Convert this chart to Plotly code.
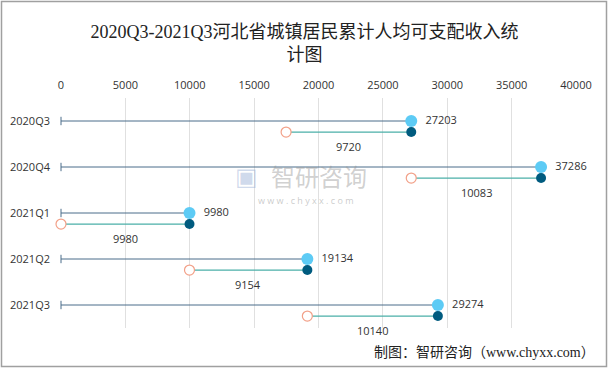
import plotly.graph_objects as go

quarters = ["2020Q3", "2020Q4", "2021Q1", "2021Q2", "2021Q3"]
cumulative = [27203, 37286, 9980, 19134, 29274]
increment = [9720, 10083, 9980, 9154, 10140]
x_ticks = [0, 5000, 10000, 15000, 20000, 25000, 30000, 35000, 40000]

W, H = 609, 369
L, R, T, B = 61, 33, 98, 41
pw, ph = W - L - R, H - T - B

starts = [c - i for c, i in zip(cumulative, increment)]
idx = list(range(len(quarters)))
n = len(quarters)
off = 0.24
FONT = "Open Sans, Noto Sans CJK SC, sans-serif"

fig = go.Figure()

for i, c in zip(idx, cumulative):
    fig.add_trace(go.Scatter(x=[0, c], y=[i, i], mode="lines", cliponaxis=False,
                             line=dict(color="#4A6C8A", width=1), hoverinfo="skip"))
    fig.add_trace(go.Scatter(x=[0], y=[i], mode="markers", cliponaxis=False,
                             marker=dict(symbol="line-ns", size=6, line=dict(color="#4A6C8A", width=1)),
                             hoverinfo="skip"))
for i, s, c in zip(idx, starts, cumulative):
    fig.add_trace(go.Scatter(x=[s, c], y=[i + off, i + off], mode="lines", cliponaxis=False,
                             line=dict(color="#4BAFA8", width=1.3), hoverinfo="skip"))

fig.add_trace(go.Scatter(x=cumulative, y=idx, mode="markers+text", cliponaxis=False,
                         marker=dict(size=12, color="#5DCBF5"),
                         text=[f"  {v}" for v in cumulative], textposition="middle right",
                         textfont=dict(size=11, color="#333333", family=FONT)))
fig.add_trace(go.Scatter(x=cumulative, y=[i + off for i in idx], mode="markers", cliponaxis=False,
                         marker=dict(size=10, color="#005B7F")))
fig.add_trace(go.Scatter(x=starts, y=[i + off for i in idx], mode="markers", cliponaxis=False,
                         marker=dict(size=10, color="white", line=dict(color="#F2A088", width=1.2))))

for i, s, c, v in zip(idx, starts, cumulative, increment):
    fig.add_annotation(x=(s + c) / 2, xref="x", yref="paper",
                       y=1 - (i + off + 0.32 + 0.5) / n, text=str(v), showarrow=False,
                       xanchor="center", yanchor="middle",
                       font=dict(size=11, color="#333333", family=FONT))

fig.update_layout(
    width=W, height=H, showlegend=False,
    paper_bgcolor="white", plot_bgcolor="white",
    margin=dict(l=L, r=R, t=T, b=B, autoexpand=False),
    title=dict(text="2020Q3-2021Q3河北省城镇居民累计人均可支配收入统<br>计图",
               x=0.5, xref="container", xanchor="center",
               y=1 - 38 / H, yref="container", yanchor="middle",
               font=dict(size=18, color="#222222", family="Liberation Serif, Noto Sans CJK SC, serif")),
    xaxis=dict(range=[0, 40000], tickvals=x_ticks, ticktext=[str(v) for v in x_ticks],
               side="top", showgrid=True, automargin=False,
               gridcolor="#E0E0E0", gridwidth=1, zeroline=False, showline=False,
               tickfont=dict(size=11, color="#333333", family=FONT),
               ticks="", ticklabelstandoff=6),
    yaxis=dict(range=[4.5, -0.5], tickvals=idx, ticktext=quarters, showgrid=False, automargin=False,
               zeroline=False, showline=False, ticks="", ticklabelstandoff=10,
               tickfont=dict(size=11, color="#333333", family=FONT)),
)

fig.add_shape(type="rect", xref="paper", yref="paper",
              x0=-(L - 1.5) / pw, x1=1 + (R - 2.5) / pw,
              y0=-(B - 2.5) / ph, y1=1 + (T - 1.5) / ph,
              line=dict(color="#A0A0A0", width=1.5), fillcolor="rgba(0,0,0,0)")

fig.add_annotation(text="智研咨询", xref="paper", yref="paper", x=0.50, y=0.665,
                   showarrow=False, font=dict(size=24, color="rgba(150,150,150,0.45)",
                                               family="Noto Sans CJK SC"))
fig.add_annotation(text="▣", xref="paper", yref="paper", x=0.36, y=0.665,
                   showarrow=False, font=dict(size=24, color="rgba(120,150,200,0.35)"))
fig.add_annotation(text="w w w . c h y x x . c o m", xref="paper", yref="paper", x=0.475, y=0.555,
                   showarrow=False, font=dict(size=9, color="rgba(150,150,150,0.5)"))

fig.add_annotation(text="制图：智研咨询（www.chyxx.com）", xref="paper", yref="paper",
                   x=1 + (R - 12) / pw, y=-(B - 17) / ph, xanchor="right", yanchor="middle",
                   showarrow=False,
                   font=dict(size=14, color="#222222", family="Liberation Serif, Noto Sans CJK SC, serif"))

fig.write_html("out.html", config={"displayModeBar": False},
               post_script="document.body.style.margin='0';document.body.style.padding='0';")
